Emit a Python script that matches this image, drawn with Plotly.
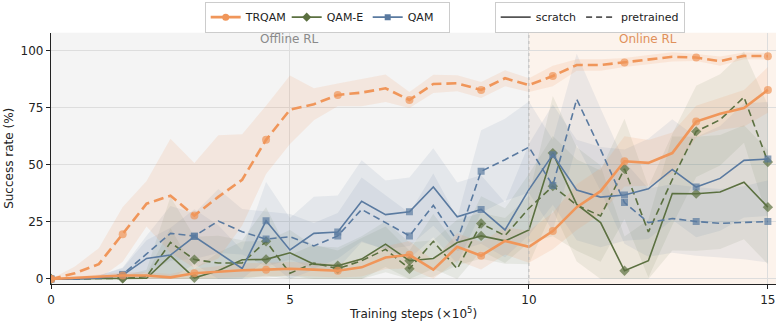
import plotly.graph_objects as go

steps = [0, 0.5, 1, 1.5, 2, 2.5, 3, 3.5, 4, 4.5, 5, 5.5, 6, 6.5, 7, 7.5, 8, 8.5, 9, 9.5,
         10, 10.5, 11, 11.5, 12, 12.5, 13, 13.5, 14, 14.5, 15]

trqam_scratch = [0, 0.5, 1, 1.5, 1.5, 0.7, 2.5, 3.3, 3.8, 4.1, 4.5, 4.1, 3.6, 5.1, 9.4, 10.6,
                 4.1, 14.1, 10.2, 16.7, 14.1, 21, 31.5, 38.5, 51.6, 50.9, 55.2, 69, 72.4, 74.9, 82.9]
trqam_pre = [0, 2.5, 6.5, 19.6, 33, 36.5, 27.8, 36, 43.5, 61, 74.2, 76.6, 80.7, 81.7, 83.6, 78.5,
             85.5, 85.8, 82.9, 88, 85, 89, 93.8, 93.8, 94.9, 96.2, 97.4, 97.1, 95.5, 97.8, 97.7]
qam_scratch = [0, 0, 0.5, 1.7, 9, 10.5, 18.6, 11.6, 4.6, 25.5, 12.7, 20, 20.6, 34.1, 28.2, 29.5,
               40.3, 27.3, 30.5, 21.5, 39.2, 54.5, 39, 35.9, 36.8, 39.5, 48, 40.3, 44.1, 52, 52.6]
qam_pre = [0, 0, 0.5, 2, 11, 20, 18.8, 25.4, 20.7, 17.5, 18.5, 14.5, 18.9, 30.5, 24.7, 18.9,
           32.3, 16.7, 47.2, 52.3, 57.8, 41, 78.8, 56.7, 33.5, 24.7, 26.5, 25.2, 24.4, 24.7, 25.2]
qame_scratch = [0, 0, 0, 0.3, 0.3, 10.2, 0.5, 3.6, 8.4, 8.6, 11.5, 6.5, 5.8, 8.7, 15.3, 8,
                9, 16, 18.9, 16.7, 21.5, 55.2, 32.7, 24.7, 3.6, 8, 37.5, 37.4, 38.1, 42.4, 31.5]
qame_pre = [0, 0, 0, 0.3, 1, 16, 8.5, 7, 7, 16.5, 2.5, 7, 4.5, 8, 13, 4.5,
            16.5, 4.4, 24.3, 19, 31, 40.7, 32.4, 27.6, 48.3, 20.6, 43.6, 64.7, 69.8, 79.7, 51.3]

trqam_scratch_sd = [0, 0.5, 1, 1.5, 1.5, 1.5, 2, 2.5, 3, 3, 3, 3, 3, 4, 5, 6, 4, 6, 6, 6, 7, 8,
                    10, 10, 11, 10, 9, 7, 7, 8, 10]
trqam_pre_sd = [0, 3, 7, 12, 10, 25, 23, 27, 20, 15, 15, 7, 5, 6, 6, 3.5, 4, 3.5, 3.5, 3.5, 3,
                4.5, 2.5, 2.5, 2, 2, 2, 1.5, 2, 1.5, 1.5]
qam_scratch_sd = [0, 0, 1, 3, 8, 12, 12, 12, 8, 17, 14, 16, 16, 18, 15, 15, 17, 15, 15, 12, 20,
                  22, 22, 22, 20, 22, 22, 22, 23, 25, 25]
qam_pre_sd = [0, 0, 1, 3, 8, 12, 10, 14, 10, 12, 10, 10, 10, 14, 12, 10, 14, 10, 18, 18, 20, 20,
              20, 18, 18, 15, 15, 15, 15, 16, 18]
qame_scratch_sd = [0, 0, 0, 1, 2, 12, 4, 8, 8, 8, 10, 8, 8, 10, 10, 8, 8, 10, 10, 10, 15, 25, 25,
                   25, 15, 18, 25, 25, 25, 25, 25]
qame_pre_sd = [0, 0, 0, 1, 3, 20, 10, 12, 10, 15, 8, 8, 8, 10, 10, 8, 12, 10, 12, 12, 15, 22, 20,
               20, 22, 20, 20, 20, 20, 20, 25]

methods = ["TRQAM", "QAM-E", "QAM"]
x_ticks = [0, 5, 10, 15]
y_ticks = [0, 25, 50, 75, 100]

ORANGE = "#F0965A"
GREEN = "#5B7040"
BLUE = "#5A7AA0"
band_col = {"TRQAM": "rgba(240,150,90,0.14)", "QAM-E": "rgba(110,130,80,0.11)",
            "QAM": "rgba(100,130,165,0.11)"}
line_col = {"TRQAM": ORANGE, "QAM-E": GREEN, "QAM": BLUE}
symbol = {"TRQAM": "circle", "QAM-E": "diamond", "QAM": "square"}
msize = {"TRQAM": 8, "QAM-E": 8, "QAM": 7}
lw = {"TRQAM": 2.6, "QAM-E": 1.6, "QAM": 1.6}

series = [
    ("QAM-E", "scratch", qame_scratch, qame_scratch_sd),
    ("QAM-E", "pretrained", qame_pre, qame_pre_sd),
    ("QAM", "scratch", qam_scratch, qam_scratch_sd),
    ("QAM", "pretrained", qam_pre, qam_pre_sd),
    ("TRQAM", "scratch", trqam_scratch, trqam_scratch_sd),
    ("TRQAM", "pretrained", trqam_pre, trqam_pre_sd),
]

fig = go.Figure()

# bands
for m, kind, mean, sd in series:
    up = [min(100, a + b) for a, b in zip(mean, sd)]
    lo = [max(0, a - b) for a, b in zip(mean, sd)]
    fig.add_trace(go.Scatter(x=steps + steps[::-1], y=up + lo[::-1], fill="toself",
                             fillcolor=band_col[m], line=dict(width=0), mode="lines",
                             hoverinfo="skip", showlegend=False))

# lines
for m, kind, mean, sd in series:
    sizes = [msize[m] if i % 3 == 0 else 0 for i in range(len(steps))]
    dash = "solid" if kind == "scratch" else ("10px,5px" if m == "TRQAM" else "7px,4px")
    fig.add_trace(go.Scatter(x=steps, y=mean, mode="lines+markers",
                             line=dict(color=line_col[m], width=lw[m], dash=dash),
                             marker=dict(symbol=symbol[m], size=sizes, color=line_col[m],
                                         line=dict(width=0)),
                             showlegend=False))

# legend entries
for m in methods:
    fig.add_trace(go.Scatter(x=[None], y=[None], mode="lines+markers", name=m,
                             line=dict(color=line_col[m], width=lw[m]),
                             marker=dict(symbol=symbol[m], size=msize[m] - 1, color=line_col[m]),
                             legend="legend"))
for kind, d in [("scratch", "solid"), ("pretrained", "6px,4px")]:
    fig.add_trace(go.Scatter(x=[None], y=[None], mode="lines", name=kind,
                             line=dict(color="#555555", width=1.6, dash=d), legend="legend2"))

fig.add_shape(type="rect", xref="x", yref="paper", x0=0, x1=10, y0=0, y1=1,
              fillcolor="#F4F4F4", line=dict(width=0), layer="below")
fig.add_shape(type="rect", xref="x", yref="paper", x0=10, x1=15.17, y0=0, y1=1,
              fillcolor="#FCF3EC", line=dict(width=0), layer="below")
fig.add_shape(type="line", xref="x", yref="paper", x0=10, x1=10, y0=0, y1=1,
              line=dict(color="#BBBBBB", width=1, dash="dot"))

fig.add_annotation(x=5, y=1, xref="x", yref="paper", text="Offline RL", showarrow=False,
                   yanchor="middle", yshift=-6, font=dict(color="#8A8A8A", size=12))
fig.add_annotation(x=12.5, y=1, xref="x", yref="paper", text="Online RL", showarrow=False,
                   yanchor="middle", yshift=-6, font=dict(color="#E0905A", size=12))

fig.update_layout(
    width=783, height=327,
    margin=dict(l=51, r=7, t=32, b=43),
    paper_bgcolor="white", plot_bgcolor="rgba(0,0,0,0)",
    font=dict(family="DejaVu Sans", size=12, color="#222222"),
    xaxis=dict(range=[0, 15.17], tickvals=x_ticks, ticktext=[str(v) for v in x_ticks],
               showgrid=True, gridcolor="#DDDDDD", gridwidth=1, zeroline=False,
               showline=True, linecolor="#222222", linewidth=1.2, ticks="outside", ticklen=4,
               tickcolor="#222222", automargin=False,
               title=dict(text="Training steps (×10<sup>5</sup>)", standoff=4,
                          font=dict(size=12))),
    yaxis=dict(range=[-2.2, 108], tickvals=y_ticks, showgrid=True, gridcolor="#DDDDDD",
               gridwidth=1, zeroline=False, showline=True, linecolor="#222222", linewidth=1.2,
               ticks="outside", ticklen=4, tickcolor="#222222", automargin=False,
               title=dict(text="Success rate (%)", standoff=4, font=dict(size=12))),
    legend=dict(orientation="h", x=0.212, y=0.995, xref="paper", yref="container",
                xanchor="left", yanchor="top",
                bgcolor="white", bordercolor="#CCCCCC", borderwidth=1,
                font=dict(size=11), itemwidth=30, entrywidth=36, entrywidthmode="pixels",
                tracegroupgap=0),
    legend2=dict(orientation="h", x=0.612, y=0.995, xref="paper", yref="container",
                 xanchor="left", yanchor="top",
                 bgcolor="white", bordercolor="#CCCCCC", borderwidth=1,
                 font=dict(size=11), itemwidth=30),
)

fig.write_html("out.html")
